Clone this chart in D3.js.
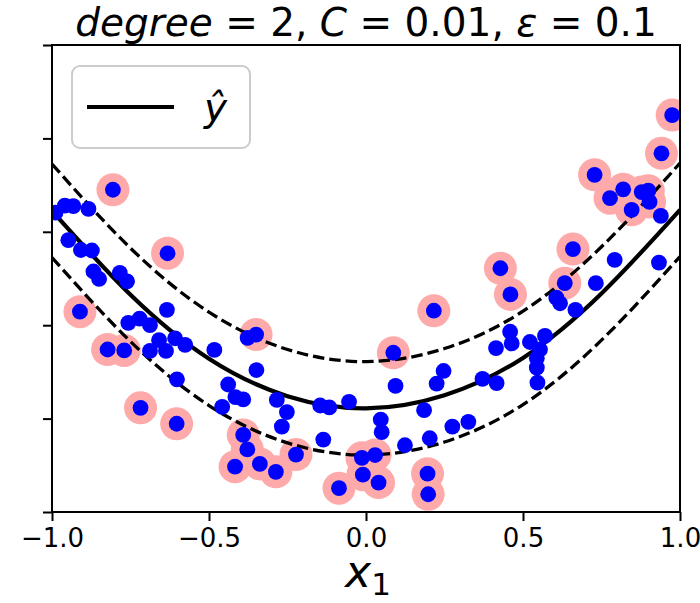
<!DOCTYPE html>
<html><head><meta charset="utf-8">
<script src="https://cdn.jsdelivr.net/npm/d3@7"></script>
<style>html,body{margin:0;padding:0;background:#fff;} text{font-family:"DejaVu Sans",sans-serif; white-space:pre;}</style>
</head><body>
<div id="chart"></div>
<script>
// ---- data ----
const xTicks = [-1, -0.5, 0, 0.5, 1];
const xTickLabels = ["\u22121.0", "\u22120.5", "0.0", "0.5", "1.0"];
const yTicks = [0, 0.2, 0.4, 0.6, 0.8, 1.0];

const pointsX = [-0.806,-0.989,-0.959,-0.932,-0.884,-0.948,-0.908,-0.873,-0.632,-0.868,
 -0.850,-0.784,-0.761,-0.911,-0.757,-0.721,-0.688,-0.634,-0.823,-0.770,
 -0.659,-0.608,-0.576,-0.688,-0.637,-0.483,-0.602,-0.439,-0.416,-0.391,
 -0.458,-0.718,-0.603,-0.349,-0.377,-0.350,-0.391,-0.378,-0.417,-0.338,
 -0.287,-0.223,-0.284,-0.252,-0.268,-0.146,-0.117,-0.054,-0.136,-0.086,
 -0.013,0.029,-0.010,0.040,0.087,0.216,0.094,0.047,0.050,0.124,
 0.185,0.203,0.225,0.247,0.275,0.326,0.196,0.198,0.371,0.416,
 0.414,0.459,0.464,0.522,0.570,0.554,0.544,0.544,0.546,0.606,
 0.618,0.667,0.633,0.732,0.460,0.428,0.659,0.792,0.933,0.939,
 0.846,0.903,0.899,0.878,0.777,0.819,0.728,0.941,0.975];
const pointsY = [0.690,0.641,0.656,0.655,0.649,0.582,0.561,0.560,0.554,0.515,
 0.499,0.512,0.494,0.429,0.405,0.414,0.400,0.433,0.348,0.346,
 0.368,0.372,0.358,0.345,0.345,0.347,0.284,0.273,0.246,0.241,
 0.225,0.223,0.189,0.304,0.373,0.380,0.165,0.134,0.097,0.103,
 0.086,0.123,0.240,0.214,0.183,0.228,0.224,0.236,0.155,0.051,
 0.116,0.122,0.080,0.063,0.341,0.431,0.270,0.198,0.171,0.143,
 0.218,0.158,0.275,0.302,0.183,0.193,0.082,0.038,0.285,0.276,
 0.351,0.386,0.361,0.364,0.377,0.348,0.329,0.309,0.277,0.459,
 0.447,0.433,0.490,0.490,0.466,0.522,0.563,0.540,0.534,0.634,
 0.647,0.664,0.688,0.685,0.672,0.691,0.722,0.768,0.850];
const isSupport = [1,0,0,0,0,0,0,0,1,0,
 0,0,0,1,0,0,0,0,1,1,
 0,0,0,0,0,0,0,0,0,0,
 0,1,1,0,0,1,1,1,1,1,
 1,1,0,0,0,0,0,0,0,1,
 1,1,1,1,1,1,0,0,0,0,
 0,0,0,0,0,0,1,1,0,0,
 0,0,0,0,0,0,0,0,0,0,
 0,0,1,0,1,1,1,0,0,0,
 1,1,1,1,1,1,1,1,1];

// model prediction y-hat, read at a few x positions
const curveX = [-1, -0.75, -0.5, -0.25, 0, 0.25, 0.5, 0.75, 1];
const curveY = [0.645, 0.465, 0.328, 0.248, 0.222, 0.250, 0.330, 0.468, 0.647];
const epsilon = 0.1;

// ---- drawing ----
(function () {
const W = 700, H = 603;
const mL = 52, mR = 680, mT = 45, mB = 512;
const svg = d3.select("#chart").append("svg").attr("width", W).attr("height", H);
const x = d3.scaleLinear().domain([-1, 1]).range([mL, mR]);
const y = d3.scaleLinear().domain([0, 1]).range([mB, mT]);

svg.append("defs").append("clipPath").attr("id", "clip")
  .append("rect").attr("x", mL).attr("y", mT).attr("width", mR - mL).attr("height", mB - mT);

const plot = svg.append("g").attr("clip-path", "url(#clip)");

const pts = pointsX.map((v, i) => ({x: v, y: pointsY[i], sv: isSupport[i]}));
const curve = curveX.map((v, i) => ({x: v, y: curveY[i]}));

// support vectors (pink)
plot.selectAll("circle.sv").data(pts.filter(d => d.sv)).join("circle")
  .attr("class", "sv").attr("cx", d => x(d.x)).attr("cy", d => y(d.y)).attr("r", 16.5)
  .attr("fill", "#FFAAAA");

const line = off => d3.line().x(d => x(d.x)).y(d => y(d.y + off)).curve(d3.curveNatural);
plot.append("path").datum(curve).attr("d", line(0)).attr("fill", "none")
  .attr("stroke", "#000").attr("stroke-width", 4.2);
[epsilon, -epsilon].forEach(e => {
  plot.append("path").datum(curve).attr("d", line(e)).attr("fill", "none")
    .attr("stroke", "#000").attr("stroke-width", 3.3).attr("stroke-dasharray", "11.5,5");
});

plot.selectAll("circle.pt").data(pts).join("circle")
  .attr("class", "pt").attr("cx", d => x(d.x)).attr("cy", d => y(d.y)).attr("r", 7.9)
  .attr("fill", "#0000ff");

// frame
svg.append("rect").attr("x", mL).attr("y", mT).attr("width", mR - mL).attr("height", mB - mT)
  .attr("fill", "none").attr("stroke", "#000").attr("stroke-width", 2);

// axes
const xAxis = d3.axisBottom(x).tickValues(xTicks).tickFormat((d, i) => xTickLabels[i]).tickSize(9).tickPadding(8);
const gx = svg.append("g").attr("transform", `translate(0,${mB})`).call(xAxis);
gx.select(".domain").remove();
gx.selectAll("line").attr("stroke-width", 2);
gx.selectAll("text").attr("font-size", 26).attr("font-family", "DejaVu Sans").attr("fill", "#000");

const yAxis = d3.axisLeft(y).tickValues(yTicks).tickFormat("").tickSize(9);
const gy = svg.append("g").attr("transform", `translate(${mL},0)`).call(yAxis);
gy.select(".domain").remove();
gy.selectAll("line").attr("stroke-width", 2);

// title
const title = svg.append("text").attr("x", (mL + mR) / 2).attr("y", 36)
  .attr("text-anchor", "middle").attr("font-size", 39);
[["degree", true], [" = 2, ", false], ["C", true], [" = 0.01, ", false], ["\u03b5", true], [" = 0.1", false]]
  .forEach(([t, it]) => title.append("tspan").attr("font-style", it ? "italic" : "normal").text(t));

// x label
const xl = svg.append("text").attr("x", (mL + mR) / 2 + 2).attr("y", 587)
  .attr("text-anchor", "middle").attr("font-size", 44);
xl.append("tspan").attr("font-style", "italic").text("x");
xl.append("tspan").attr("font-size", 31).attr("dy", 8).text("1");

// legend
const lg = svg.append("g");
lg.append("rect").attr("x", 72).attr("y", 66).attr("width", 178).attr("height", 82).attr("rx", 8)
  .attr("fill", "#fff").attr("fill-opacity", 0.8).attr("stroke", "#cccccc").attr("stroke-width", 2);
lg.append("line").attr("x1", 87).attr("x2", 174).attr("y1", 107).attr("y2", 107)
  .attr("stroke", "#000").attr("stroke-width", 4.2);
lg.append("text").attr("x", 204).attr("y", 121).attr("font-size", 39).attr("font-style", "italic").text("\u0177");
})();
</script>
</body></html>
